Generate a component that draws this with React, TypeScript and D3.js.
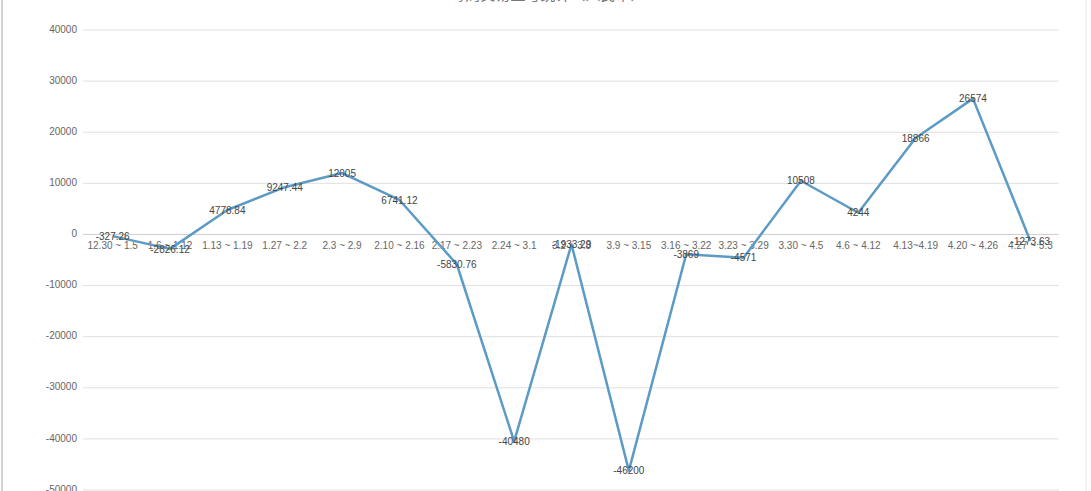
import React from "react";
import * as d3 from "d3";

const categories = [
  "12.30 ~ 1.5", "1.6 ~ 1.12", "1.13 ~ 1.19", "1.27 ~ 2.2", "2.3 ~ 2.9",
  "2.10 ~ 2.16", "2.17 ~ 2.23", "2.24 ~ 3.1", "3.2 ~ 3.8", "3.9 ~ 3.15",
  "3.16 ~ 3.22", "3.23 ~ 3.29", "3.30 ~ 4.5", "4.6 ~ 4.12", "4.13~4.19",
  "4.20 ~ 4.26", "4.27 ~ 5.3",
];
const values = [
  -327.26, -2826.12, 4778.84, 9247.44, 12005, 6741.12, -5830.76, -40480,
  -1933.29, -46200, -3869, -4571, 10508, 4244, 18866, 26574, -1273.63,
];
const yTicks = [40000, 30000, 20000, 10000, 0, -10000, -20000, -30000, -40000, -50000];
const title = "每周交易盈亏统计（人民币）";

const W = 1091;
const H = 491;
const LEFT = 84;
const RIGHT = 1059;

export default function App() {
  const x = d3.scaleBand<string>().domain(categories).range([LEFT, RIGHT]);
  const y = d3.scaleLinear().domain([-50000, 40000]).range([490, 30]);
  const cx = (i: number) => (x(categories[i]) ?? 0) + x.bandwidth() / 2;
  const line = d3
    .line<number>()
    .x((_, i) => cx(i))
    .y((d) => y(d));

  const font = "'Liberation Sans', Arial, sans-serif";

  return (
    <svg
      width={W}
      height={H}
      style={{ position: "absolute", left: 0, top: 0, background: "#fff" }}
      fontFamily={font}
    >
      <line x1={2} y1={0} x2={2} y2={H} stroke="#d4d4d4" strokeWidth={2} />
      <line x1={1086} y1={0} x2={1086} y2={H} stroke="#e6e6e6" strokeWidth={1} />
      <text
        x={548}
        y={0}
        textAnchor="middle"
        fontSize={15}
        fill="#777"
        fontFamily="'Noto Sans CJK SC', sans-serif"
      >
        {title}
      </text>
      {yTicks.map((t) => (
        <g key={t}>
          <line
            x1={83}
            x2={RIGHT}
            y1={y(t)}
            y2={y(t)}
            stroke={t === 0 ? "#cfcfcf" : "#e0e0e0"}
            strokeWidth={1}
          />
          <text
            x={77}
            y={y(t)}
            textAnchor="end"
            dominantBaseline="middle"
            fontSize={10}
            fill="#666"
          >
            {t}
          </text>
        </g>
      ))}
      {categories.map((c, i) => (
        <text
          key={c}
          x={cx(i)}
          y={y(0) + 12}
          textAnchor="middle"
          dominantBaseline="middle"
          fontSize={10}
          fill="#666"
        >
          {c}
        </text>
      ))}
      <path d={line(values) ?? ""} fill="none" stroke="#5b9bc6" strokeWidth={2.5} strokeLinejoin="round" />
      {values.map((v, i) => (
        <text
          key={i}
          x={cx(i)}
          y={y(v) + 1}
          textAnchor="middle"
          dominantBaseline="middle"
          fontSize={10}
          fill="#444"
        >
          {v}
        </text>
      ))}
    </svg>
  );
}
